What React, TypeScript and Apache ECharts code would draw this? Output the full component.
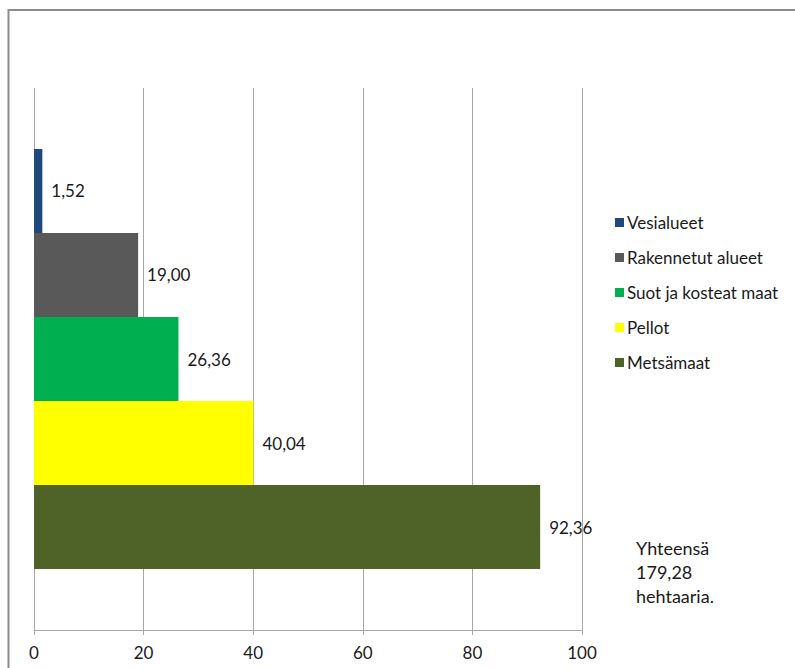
import React, { useEffect, useRef } from "react";
import * as echarts from "echarts";

const seriesNames = ["Vesialueet", "Rakennetut alueet", "Suot ja kosteat maat", "Pellot", "Metsämaat"];
const seriesValues = [1.52, 19.0, 26.36, 40.04, 92.36];
const seriesColors = ["#1F497D", "#595959", "#00B050", "#FFFF00", "#4F6228"];
const xTicks = [0, 20, 40, 60, 80, 100];
const totalText = ["Yhteensä", "179,28", "hehtaaria."];

const FONT = "Lato, 'Open Sans', sans-serif";

export default function App() {
  const ref = useRef<HTMLDivElement>(null);
  useEffect(() => {
    if (!ref.current) return;
    const chart = echarts.init(ref.current, null, { renderer: "svg" });
    chart.setOption({
      animation: false,
      backgroundColor: "#ffffff",
      grid: { left: 34, right: 213, top: 88, bottom: 38, containLabel: false },
      xAxis: {
        type: "value",
        min: xTicks[0],
        max: xTicks[xTicks.length - 1],
        interval: 20,
        axisLine: { show: true, lineStyle: { color: "#A6A6A6", width: 1 } },
        axisTick: { show: true, length: 5, lineStyle: { color: "#A6A6A6" } },
        axisLabel: { color: "#1a1a1a", fontSize: 17, fontFamily: FONT, margin: 14 },
        splitLine: { show: true, lineStyle: { color: "#A6A6A6", width: 1 } },
      },
      yAxis: {
        type: "category",
        inverse: true,
        data: [""],
        axisLine: { show: false },
        axisTick: { show: false },
        axisLabel: { show: false },
      },
      legend: {
        data: seriesNames,
        orient: "vertical",
        left: 610,
        top: 209,
        itemWidth: 9,
        itemHeight: 9,
        itemGap: 18,
        icon: "rect",
        textStyle: { color: "#1a1a1a", fontSize: 17, fontFamily: FONT, padding: [0, 0, 0, -2] },
      },
      series: seriesNames.map((name, i) => ({
        name,
        type: "bar",
        data: [seriesValues[i]],
        barGap: "0%",
        barCategoryGap: "22.5%",
        itemStyle: { color: seriesColors[i] },
        label: {
          show: true,
          position: "right",
          distance: 9,
          color: "#1a1a1a",
          fontSize: 17,
          fontFamily: FONT,
          formatter: (p: any) => p.value.toFixed(2).replace(".", ","),
        },
      })),
      graphic: [
        {
          type: "rect",
          shape: { x: 8.5, y: 10, width: 820, height: 700 },
          style: { fill: "none", stroke: "#8C8C8C", lineWidth: 2 },
          silent: true,
        },
        {
          type: "text",
          left: 636,
          top: 536,
          style: {
            text: totalText.join("\n"),
            fontSize: 18,
            lineHeight: 24,
            fontFamily: FONT,
            fill: "#1a1a1a",
          },
        },
      ],
    });
    return () => chart.dispose();
  }, []);
  return <div ref={ref} style={{ position: "fixed", left: 0, top: 0, width: 795, height: 668 }} />;
}
